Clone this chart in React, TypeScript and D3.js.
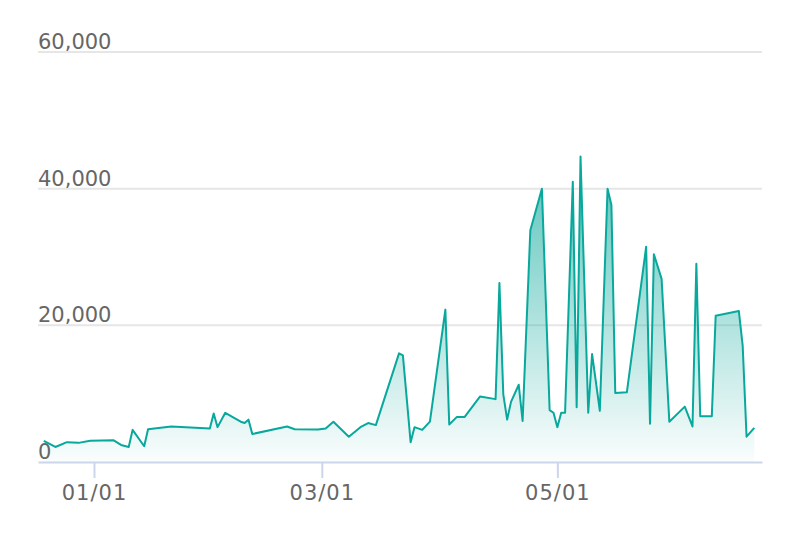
import { useEffect, useRef } from 'react';
import * as d3 from 'd3';

// daily samples
const dates = [
  '2022-12-19', '2022-12-22', '2022-12-25', '2022-12-28', '2022-12-31',
  '2023-01-06', '2023-01-08', '2023-01-10', '2023-01-11', '2023-01-14',
  '2023-01-15', '2023-01-21', '2023-01-31', '2023-02-01', '2023-02-02',
  '2023-02-04', '2023-02-08', '2023-02-09', '2023-02-10', '2023-02-11',
  '2023-02-20', '2023-02-22', '2023-02-28', '2023-03-02', '2023-03-04',
  '2023-03-08', '2023-03-11', '2023-03-13', '2023-03-15', '2023-03-21',
  '2023-03-22', '2023-03-24', '2023-03-25', '2023-03-27', '2023-03-29',
  '2023-04-02', '2023-04-03', '2023-04-05', '2023-04-07', '2023-04-11',
  '2023-04-15', '2023-04-16', '2023-04-17', '2023-04-18', '2023-04-19',
  '2023-04-21', '2023-04-22', '2023-04-24', '2023-04-27', '2023-04-29',
  '2023-04-30', '2023-05-01', '2023-05-02', '2023-05-03', '2023-05-05',
  '2023-05-06', '2023-05-07', '2023-05-09', '2023-05-10', '2023-05-12',
  '2023-05-14', '2023-05-15', '2023-05-16', '2023-05-19', '2023-05-24',
  '2023-05-25', '2023-05-26', '2023-05-28', '2023-05-30', '2023-06-03',
  '2023-06-05', '2023-06-06', '2023-06-07', '2023-06-10', '2023-06-11',
  '2023-06-17', '2023-06-18', '2023-06-19', '2023-06-21',
];

const values = [
  3100, 2200, 2900, 2800, 3100,
  3200, 2500, 2200, 4700, 2300,
  4800, 5200, 4900, 7100, 5100,
  7200, 5900, 5700, 6200, 4100,
  5200, 4800, 4750, 4900, 5900,
  3700, 5100, 5700, 5400, 15900,
  15600, 2900, 5100, 4700, 5900,
  22300, 5500, 6600, 6600, 9600,
  9200, 26200, 9900, 6200, 8800,
  11300, 6000, 33900, 40000, 7600,
  7200, 5100, 7200, 7200, 41000,
  8000, 44700, 7200, 15800, 7500,
  40000, 37600, 10100, 10200, 31500,
  5600, 30400, 26800, 5900, 8100,
  5200, 29000, 6700, 6700, 21400,
  22100, 17000, 3700, 5000,
];

const yTicks = [0, 20000, 40000, 60000];

export default function App() {
  const svgRef = useRef<SVGSVGElement>(null);

  useEffect(() => {
    const width = 794;
    const height = 540;
    const margin = { top: 52, right: 32, bottom: 78, left: 38 };

    const svg = d3.select(svgRef.current);
    svg.selectAll('*').remove();
    svg.attr('width', width).attr('height', height);

    const parse = d3.timeParse('%Y-%m-%d');
    const data = dates.map((d, i) => ({ date: parse(d) as Date, value: values[i] }));

    const x = d3.scaleTime()
      .domain([new Date(2022, 11, 17, 12), new Date(2023, 5, 23, 0)])
      .range([margin.left, width - margin.right]);

    const y = d3.scaleLinear()
      .domain([0, 60000])
      .range([height - margin.bottom, margin.top]);

    const font = '"DejaVu Sans", Verdana, sans-serif';

    // gradient for the area
    const grad = svg.append('defs')
      .append('linearGradient')
      .attr('id', 'areaFill')
      .attr('x1', 0).attr('y1', 0)
      .attr('x2', 0).attr('y2', 1);
    grad.append('stop').attr('offset', '0%').attr('stop-color', '#0aa79b').attr('stop-opacity', 0.68);
    grad.append('stop').attr('offset', '100%').attr('stop-color', '#0aa79b').attr('stop-opacity', 0.02);

    // grid lines
    svg.append('g')
      .selectAll('line')
      .data(yTicks.filter(t => t > 0))
      .enter()
      .append('line')
      .attr('x1', margin.left)
      .attr('x2', width - margin.right)
      .attr('y1', d => y(d))
      .attr('y2', d => y(d))
      .attr('stroke', '#e6e6e6')
      .attr('stroke-width', 2);

    // y labels, left aligned above the lines
    svg.append('g')
      .selectAll('text')
      .data(yTicks)
      .enter()
      .append('text')
      .attr('x', margin.left)
      .attr('y', d => y(d) - 3)
      .attr('fill', '#666666')
      .style('font-family', font)
      .style('font-size', '21px')
      .text(d => d3.format(',')(d));

    // area + line
    const area = d3.area<{ date: Date; value: number }>()
      .x(d => x(d.date))
      .y0(y(0))
      .y1(d => y(d.value));

    const line = d3.line<{ date: Date; value: number }>()
      .x(d => x(d.date))
      .y(d => y(d.value));

    svg.append('path')
      .datum(data)
      .attr('d', area)
      .attr('fill', 'url(#areaFill)');

    svg.append('path')
      .datum(data)
      .attr('d', line)
      .attr('fill', 'none')
      .attr('stroke', '#08a89c')
      .attr('stroke-width', 2)
      .attr('stroke-linejoin', 'round');

    // x axis
    const xAxis = svg.append('g')
      .attr('transform', `translate(0,${y(0)})`)
      .call(d3.axisBottom(x)
        .ticks(d3.timeMonth.every(2))
        .tickFormat(d => d3.timeFormat('%m/%d')(d as Date))
        .tickSize(16)
        .tickSizeOuter(0)
        .tickPadding(7));

    xAxis.select('.domain')
      .attr('stroke', '#ccd6eb')
      .attr('stroke-width', 2);
    xAxis.selectAll('.tick line')
      .attr('stroke', '#ccd6eb')
      .attr('stroke-width', 2);
    xAxis.selectAll('.tick text')
      .attr('fill', '#666666')
      .style('font-family', font)
      .style('font-size', '21px')
      .style('letter-spacing', '1px');
  }, []);

  return (
    <svg ref={svgRef} style={{ position: 'absolute', left: 0, top: 0, background: '#ffffff' }}></svg>
  );
}
